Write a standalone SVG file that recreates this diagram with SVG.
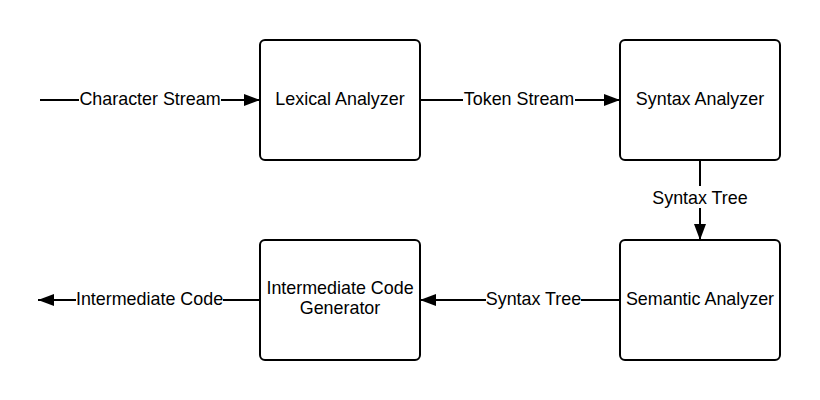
<svg xmlns="http://www.w3.org/2000/svg" width="820" height="400" viewBox="0 0 820 400">
<style>
.box{fill:#fff;stroke:#000;stroke-width:2}
.ln{fill:none;stroke:#000;stroke-width:2}
text{font-family:"Liberation Sans",Arial,sans-serif;font-size:17.9px;fill:#000;text-anchor:middle}
.bg{fill:#fff}
</style>
<defs>
<marker id="ah" markerUnits="userSpaceOnUse" markerWidth="16" markerHeight="14" refX="16" refY="7" orient="auto">
<path d="M0,1 L16,7 L0,13 Z" fill="#000"/>
</marker>
</defs>
<rect width="820" height="400" fill="#fff"/>
<g id="connectors">
<line class="ln" x1="40" y1="100" x2="260" y2="100" marker-end="url(#ah)"/>
<line class="ln" x1="420" y1="100" x2="620" y2="100" marker-end="url(#ah)"/>
<line class="ln" x1="700" y1="160" x2="700" y2="240" marker-end="url(#ah)"/>
<line class="ln" x1="620" y1="300" x2="420" y2="300" marker-end="url(#ah)"/>
<line class="ln" x1="260" y1="300" x2="38" y2="300" marker-end="url(#ah)"/>
<rect class="bg" x="79" y="88" width="142" height="22"/>
<text x="150" y="104.5">Character Stream</text>
<rect class="bg" x="463" y="88" width="112" height="22"/>
<text x="519" y="104.5">Token Stream</text>
<rect class="bg" x="650" y="186" width="100" height="22"/>
<text x="700" y="204">Syntax Tree</text>
<rect class="bg" x="486" y="288" width="95" height="22"/>
<text x="533.5" y="304.5">Syntax Tree</text>
<rect class="bg" x="76" y="288" width="147" height="22"/>
<text x="149.5" y="304.5">Intermediate Code</text>
</g>
<g id="lexical">
<rect class="box" x="260" y="40" width="160" height="120" rx="5"/>
<text x="340" y="104.5">Lexical Analyzer</text>
</g>
<g id="syntax">
<rect class="box" x="620" y="40" width="160" height="120" rx="5"/>
<text x="700" y="104.5">Syntax Analyzer</text>
</g>
<g id="semantic">
<rect class="box" x="620" y="240" width="160" height="120" rx="5"/>
<text x="700" y="304.5">Semantic Analyzer</text>
</g>
<g id="icg">
<rect class="box" x="260" y="240" width="160" height="120" rx="5"/>
<text x="340" y="294">Intermediate Code</text>
<text x="340" y="314">Generator</text>
</g>
</svg>
